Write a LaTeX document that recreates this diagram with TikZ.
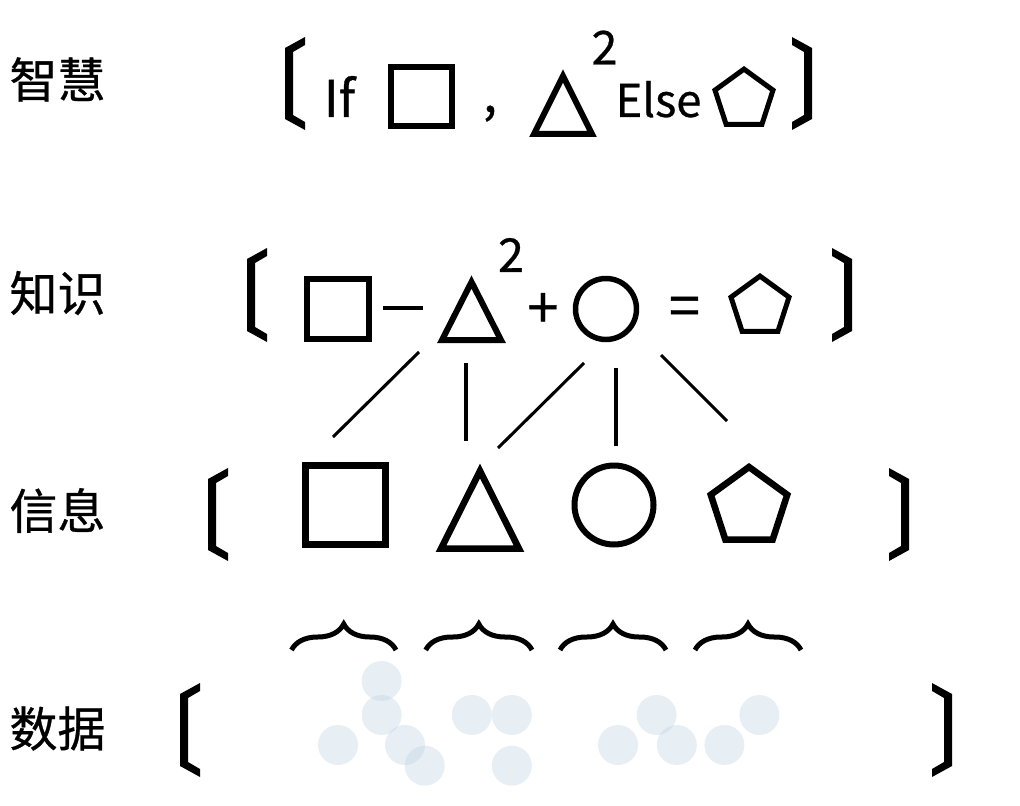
\documentclass[tikz,border=0pt]{standalone}
\usepackage{fontspec}
\setmainfont{Noto Sans CJK SC}[FakeBold=0.6]
\usetikzlibrary{decorations.pathreplacing}
\definecolor{dotblue}{RGB}{192,210,226}
% left bracket: x (left edge), y top, y bottom
\newcommand\mylbrk[3]{\fill (#1+20,#2) -- (#1,#2+11) -- (#1,#3-11) -- (#1+20,#3) -- (#1+20,#3-8) -- (#1+8,#3-15) -- (#1+8,#2+15) -- (#1+20,#2+8) -- cycle;}
% right bracket: x (right edge), y top, y bottom
\newcommand\myrbrk[3]{\fill (#1-20,#2) -- (#1,#2+11) -- (#1,#3-11) -- (#1-20,#3) -- (#1-20,#3-8) -- (#1-8,#3-15) -- (#1-8,#2+15) -- (#1-20,#2+8) -- cycle;}
\begin{document}
\begin{tikzpicture}[x=0.75pt,y=-0.75pt,
  lbl/.style={font=\fontsize{36}{40}\selectfont, inner sep=0pt},
  txt/.style={font=\fontsize{34}{40}\selectfont, inner sep=0pt},
  op/.style={font=\fontsize{42}{44}\selectfont, inner sep=0pt},
  shp/.style={line width=4.5pt, line join=miter},
  dot/.style={fill=dotblue, fill opacity=0.38},
  link/.style={line width=2.3pt},
  brc/.style={decorate, decoration={brace, amplitude=19.5pt}, line width=3.75pt}]
\useasboundingbox (0,0) rectangle (1020,806);

% labels
\node[lbl] (l1) at (57.5,79.5) {智慧};
\node[lbl] (l2) at (57.5,293) {知识};
\node[lbl] (l3) at (57.5,510.5) {信息};
\node[lbl] (l4) at (57.5,728.5) {数据};

% ---- row 1: wisdom
\mylbrk{285}{37}{130}
\myrbrk{812}{37}{130}
\node[txt, font=\fontsize{38}{40}\selectfont, anchor=base] (if) at (339.5,117) {If};
\draw[shp] (391,67) rectangle (452,126);
\node[txt, font=\fontsize{38}{40}\selectfont, anchor=base] (comma) at (490,112) {,};
\draw[shp] (563,76) -- (592,134) -- (534,134) -- cycle;
\node[txt, font=\fontsize{35}{40}\selectfont] (sq1) at (604.5,47.5) {2};
\node[txt, anchor=base] (else) at (658.5,117) {Else};
\draw[shp, line width=3.75pt, shift={(744,99.6)}] (-90:30.5) -- (-18:30.5) -- (54:30.5) -- (126:30.5) -- (198:30.5) -- cycle;

% ---- row 2: knowledge
\mylbrk{247}{248}{342}
\myrbrk{852}{248}{342}
\draw[shp] (307,279) rectangle (369,339);
\draw[line width=3pt] (383,308) -- (423,308);
\draw[shp] (471.5,282) -- (501,340) -- (442,340) -- cycle;
\node[txt, font=\fontsize{35}{40}\selectfont] (sq2) at (511,255) {2};
\node[op] (plus) at (543,310.5) {+};
\draw[shp, line width=4.1pt] (606,309) circle[radius=30.5];
\node[op] (eq) at (684.5,311.5) {=};
\draw[shp, line width=3.75pt, shift={(760,306.6)}] (-90:30.5) -- (-18:30.5) -- (54:30.5) -- (126:30.5) -- (198:30.5) -- cycle;

% connectors
\draw[link] (419,352) -- (333,437);
\draw[link] (466,363) -- (466,441);
\draw[link] (584,363) -- (498,448);
\draw[link] (616,368) -- (616,446);
\draw[link] (661,355) -- (727,421);

% ---- row 3: information
\mylbrk{208}{468}{561}
\myrbrk{909}{468}{561}
\draw[shp, line width=5.25pt] (305.5,465.5) rectangle (385.5,544.5);
\draw[shp, line width=4.9pt] (480,471) -- (519,548.7) -- (441,548.7) -- cycle;
\draw[shp] (614,505) circle[radius=39.5];
\draw[shp, line width=4.9pt, shift={(749,507.2)}] (-90:40.2) -- (-18:40.2) -- (54:40.2) -- (126:40.2) -- (198:40.2) -- cycle;

% braces
\draw[brc] (291.5,650) -- (396,650);
\draw[brc] (425.7,650) -- (532,650);
\draw[brc] (560,650) -- (666,650);
\draw[brc] (695,650) -- (801,650);

% ---- row 4: data
\mylbrk{180}{683}{777}
\myrbrk{952}{683}{777}
\foreach \p in {(381.6,681),(381.6,715),(338,745),(405,745),(424.7,765.7),
                (471.8,715),(511.8,715),(511.8,765.7),
                (618,745),(656.6,715),(676.8,745),(724.4,745),(759.4,715)}
  \fill[dot] \p circle[radius=20];
\end{tikzpicture}
\end{document}
